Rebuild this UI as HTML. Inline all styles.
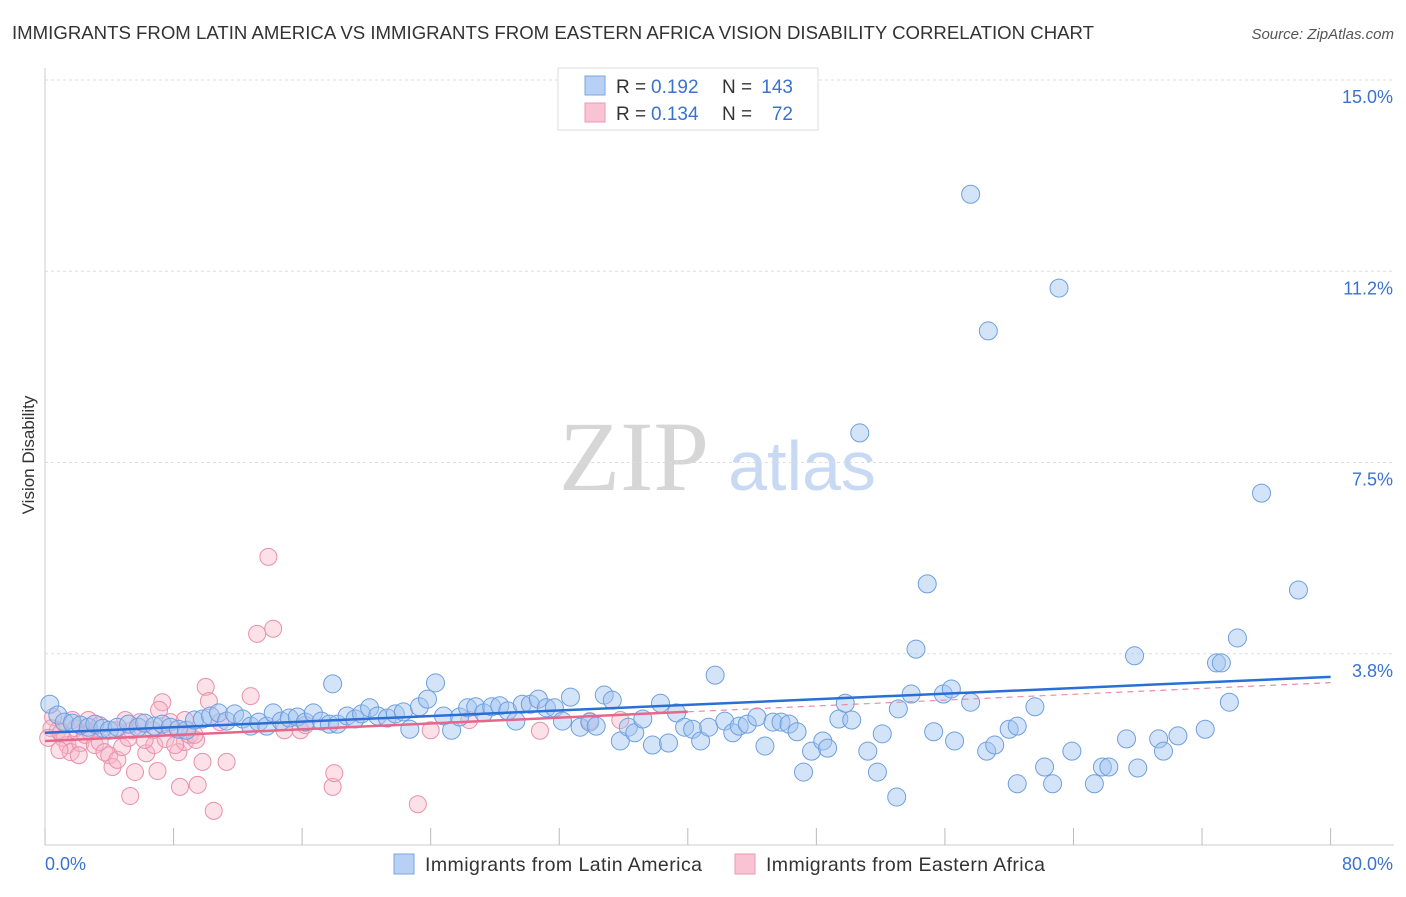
<!DOCTYPE html>
<html><head><meta charset="utf-8"><style>
body{margin:0;background:#fff;font-family:"Liberation Sans",sans-serif}
</style></head><body>
<svg id="chart" width="1406" height="892" xmlns="http://www.w3.org/2000/svg" font-family="Liberation Sans, sans-serif">
<text x="12" y="39" font-size="18.6" fill="#333" textLength="1082">IMMIGRANTS FROM LATIN AMERICA VS IMMIGRANTS FROM EASTERN AFRICA VISION DISABILITY CORRELATION CHART</text>
<text x="1394" y="39" font-size="15" fill="#555" text-anchor="end" font-style="italic">Source: ZipAtlas.com</text>
<g>
<text x="634" y="490" font-size="100" fill="#d6d6d6" text-anchor="middle" style="font-family:'Liberation Serif',serif">ZIP</text>
<text x="802" y="490" font-size="70" fill="#c8daf3" text-anchor="middle">atlas</text>
</g>
<g id="grid"></g><g id="axes"></g><g id="pts"></g><g id="trend"></g>
<text transform="translate(34,455) rotate(-90)" font-size="17" fill="#333" text-anchor="middle">Vision Disability</text>
<g>
<rect x="558" y="68" width="260" height="62" fill="#fff" stroke="#ddd"/>
<rect x="585" y="76" width="20" height="19" fill="#b7d0f3" stroke="#7aa6e3"/>
<rect x="585" y="103" width="20" height="19" fill="#f9c3d3" stroke="#ec98b2"/>
<text x="616" y="93" font-size="19" fill="#333">R =</text><text x="651" y="93" font-size="19" fill="#3a72d0">0.192</text>
<text x="722" y="93" font-size="19" fill="#333">N =</text><text x="793" y="93" font-size="19" fill="#3a72d0" text-anchor="end">143</text>
<text x="616" y="120" font-size="19" fill="#333">R =</text><text x="651" y="120" font-size="19" fill="#3a72d0">0.134</text>
<text x="722" y="120" font-size="19" fill="#333">N =</text><text x="793" y="120" font-size="19" fill="#3a72d0" text-anchor="end">72</text>
</g>
<g>
<rect x="394" y="854" width="20" height="20" fill="#b7d0f3" stroke="#7aa6e3"/>
<text x="425" y="871" font-size="19.5" fill="#333" textLength="277">Immigrants from Latin America</text>
<rect x="735" y="854" width="20" height="20" fill="#f9c3d3" stroke="#ec98b2"/>
<text x="766" y="871" font-size="19.5" fill="#333" textLength="279">Immigrants from Eastern Africa</text>
</g>
</svg>
<script>
const blueX=[0.3,0.8,1.2,1.7,2.2,2.7,3.1,3.6,4.0,4.5,5.2,5.8,6.2,6.8,7.3,7.8,8.3,8.8,9.3,9.8,10.3,10.8,11.3,11.8,12.3,12.8,13.3,13.8,14.2,14.7,15.2,15.7,16.2,16.7,17.2,17.7,18.2,18.8,19.3,19.7,20.2,20.7,21.3,21.8,22.3,22.7,23.3,23.8,24.3,17.9,24.8,25.3,25.8,26.3,26.8,27.3,27.8,28.3,28.8,29.3,29.7,30.2,30.7,31.2,31.7,32.2,32.7,33.3,33.9,34.3,34.8,35.3,35.8,36.3,36.7,37.2,37.8,38.3,38.8,39.3,39.8,40.3,40.8,41.3,41.7,42.3,42.8,43.2,43.7,44.3,44.8,45.3,45.8,46.3,46.8,47.2,47.7,48.4,48.7,49.4,49.8,50.2,51.2,51.8,52.1,53.0,53.1,53.9,54.2,55.3,55.9,56.4,56.6,57.6,58.6,59.1,60.0,60.5,60.5,61.6,62.2,62.7,63.9,65.3,65.8,66.2,68.0,67.3,69.3,69.6,70.5,72.2,73.7,67.8,72.9,73.2,74.2,78.0,75.7,54.9,50.7,58.7,63.1,57.6];
const blueY=[2.76,2.55,2.41,2.39,2.35,2.31,2.37,2.29,2.25,2.31,2.37,2.31,2.39,2.33,2.37,2.31,2.27,2.25,2.45,2.47,2.53,2.59,2.43,2.57,2.47,2.33,2.41,2.33,2.59,2.43,2.49,2.51,2.41,2.59,2.43,2.37,2.37,2.53,2.47,2.57,2.69,2.53,2.49,2.57,2.61,2.27,2.71,2.86,3.18,3.16,2.53,2.25,2.51,2.69,2.71,2.59,2.71,2.73,2.63,2.43,2.76,2.76,2.86,2.69,2.69,2.43,2.90,2.31,2.41,2.33,2.94,2.84,2.04,2.31,2.20,2.47,1.96,2.78,2.00,2.59,2.31,2.27,2.04,2.31,3.33,2.43,2.20,2.33,2.37,2.51,1.94,2.41,2.41,2.37,2.22,1.43,1.84,2.04,1.90,2.47,2.78,2.45,1.84,1.43,2.18,0.94,2.67,2.96,3.84,2.22,2.96,3.06,2.04,2.80,1.84,1.96,2.27,1.20,2.33,2.71,1.53,1.20,1.84,1.20,1.53,1.53,1.51,2.08,2.08,1.84,2.14,2.27,2.80,3.71,3.57,3.57,4.06,5.00,6.90,5.12,8.08,10.08,10.92,12.76];
const pinkX=[0.5,0.8,1.1,1.4,1.6,1.9,2.2,2.5,2.8,3.1,3.4,3.7,4.0,4.2,4.5,4.8,5.2,5.4,5.6,5.9,6.3,6.7,6.8,7.0,7.3,7.5,7.8,8.3,8.4,8.7,9.0,9.4,9.5,9.8,10.0,10.2,10.5,10.9,11.3,12.8,13.2,13.9,14.2,14.9,15.9,16.2,17.9,18.0,23.2,24.0,26.4,30.8,33.9,35.8,0.4,0.9,1.7,2.1,2.7,3.4,4.4,5.0,6.2,7.1,8.1,8.7,9.3,0.2,1.0,5.3];
const pinkY=[2.51,2.25,2.10,1.96,1.82,2.29,2.00,2.16,2.22,1.96,2.02,1.82,1.76,1.53,1.67,1.92,2.10,2.25,1.43,2.41,1.80,2.25,1.96,1.45,2.80,2.08,2.41,1.82,1.14,2.02,2.16,2.06,1.18,1.63,3.10,2.82,0.67,2.41,1.63,2.92,4.14,5.65,4.24,2.25,2.25,2.35,1.14,1.41,0.80,2.25,2.45,2.24,2.43,2.45,2.29,1.86,2.45,1.76,2.45,2.35,2.25,2.45,2.06,2.65,1.96,2.45,2.16,2.1,2.2,0.96];
const yTicks=[3.8,7.5,11.2,15.0];
const yTickVals=[3.75,7.5,11.25,15.0];
const xTickVals=[0,8,16,24,32,40,48,56,64,72,80];
const blueTrend=[2.20,0.0137];
const pinkTrend=[2.04,0.0143];
const NS="http://www.w3.org/2000/svg";
const X=v=>45+v*16.07, Y=v=>845-v*51;
function mk(t,a,p){const e=document.createElementNS(NS,t);for(const k in a)e.setAttribute(k,a[k]);p.appendChild(e);return e;}
const grid=document.getElementById('grid'),axes=document.getElementById('axes'),pts=document.getElementById('pts'),tr=document.getElementById('trend');
yTickVals.forEach((v,i)=>{
 const l=mk('line',{x1:45,x2:1394,y1:Y(v),y2:Y(v),stroke:'#ddd','stroke-dasharray':'3,3'},grid);
 
 
 const t=mk('text',{x:1393,y:Y(v)+23,'font-size':18,fill:'#3a72d0','text-anchor':'end'},axes);
 t.textContent=yTicks[i].toFixed(1)+'%';
 
 
});
const ax=mk('line',{x1:45,x2:1394,y1:845,y2:845,stroke:'#ccc'},axes);


const ay=mk('line',{x1:45,x2:45,y1:68,y2:845,stroke:'#ccc'},axes);


xTickVals.forEach(v=>{
 const l=mk('line',{x1:X(v),x2:X(v),y1:828,y2:845,stroke:'#bbb'},axes);
 
 
});
const xl=mk('text',{x:45,y:870,'font-size':18,fill:'#3a72d0'},axes);xl.textContent=xTickVals[0].toFixed(1)+'%';


const xr=mk('text',{x:1393,y:870,'font-size':18,fill:'#3a72d0','text-anchor':'end'},axes);xr.textContent=xTickVals[xTickVals.length-1].toFixed(1)+'%';


pinkX.forEach((v,i)=>{
 const c=mk('circle',{cx:X(v),cy:Y(pinkY[i]),r:8.5,fill:'rgba(248,180,200,0.4)',stroke:'#ea8faa','stroke-width':1},pts);
 
 
});
blueX.forEach((v,i)=>{
 const c=mk('circle',{cx:X(v),cy:Y(blueY[i]),r:9,fill:'rgba(160,196,240,0.45)',stroke:'#6d9fe0','stroke-width':1},pts);
 
 
});
const pd=mk('line',{x1:X(40),y1:Y(pinkTrend[0]+pinkTrend[1]*40),x2:X(80),y2:Y(pinkTrend[0]+pinkTrend[1]*80),stroke:'#e88aa5','stroke-width':1.2,'stroke-dasharray':'6,5'},tr);


const ps=mk('line',{x1:X(0),y1:Y(pinkTrend[0]),x2:X(40),y2:Y(pinkTrend[0]+pinkTrend[1]*40),stroke:'#e8658c','stroke-width':2.5},tr);


const bl=mk('line',{x1:X(0),y1:Y(blueTrend[0]),x2:X(80),y2:Y(blueTrend[0]+blueTrend[1]*80),stroke:'#2a6fd6','stroke-width':2.5},tr);


</script>
</body></html>
